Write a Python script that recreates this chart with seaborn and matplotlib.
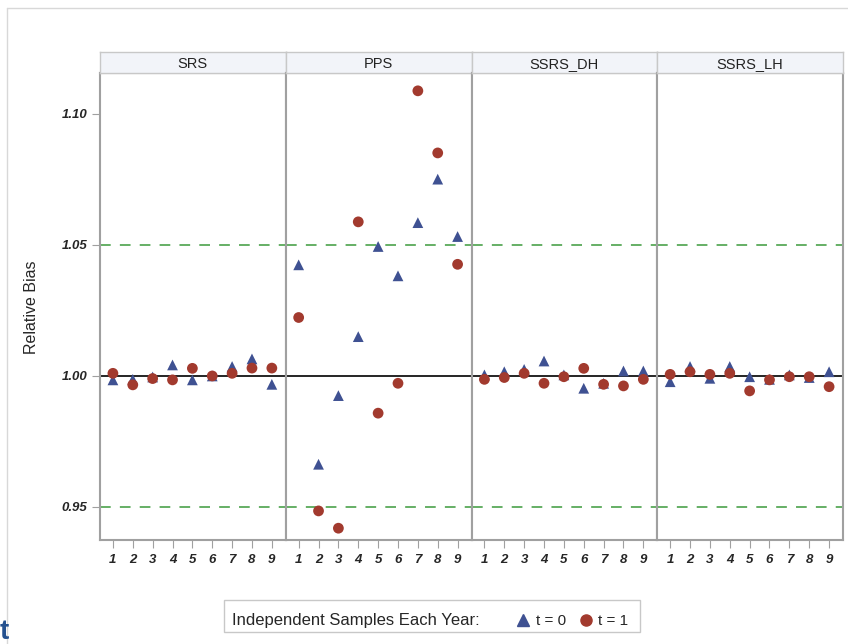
import pandas as pd
import matplotlib.pyplot as plt
import seaborn as sns
from matplotlib.lines import Line2D
from matplotlib.patches import Rectangle

# Data
designs = ["SRS", "PPS", "SSRS_DH", "SSRS_LH"]
samples = [1, 2, 3, 4, 5, 6, 7, 8, 9]

t0 = {
    "SRS":     [0.9985, 0.9987, 0.9996, 1.0042, 0.9985, 1.0000, 1.0036, 1.0065, 0.9968],
    "PPS":     [1.0424, 0.9663, 0.9925, 1.0150, 1.0494, 1.0382, 1.0585, 1.0751, 1.0532],
    "SSRS_DH": [1.0004, 1.0016, 1.0025, 1.0057, 1.0004, 0.9953, 0.9972, 1.0019, 1.0019],
    "SSRS_LH": [0.9978, 1.0036, 0.9991, 1.0036, 0.9997, 0.9987, 1.0004, 0.9994, 1.0016],
}
t1 = {
    "SRS":     [1.0010, 0.9966, 0.9990, 0.9985, 1.0029, 1.0000, 1.0010, 1.0030, 1.0030],
    "PPS":     [1.0223, 0.9485, 0.9419, 1.0588, 0.9858, 0.9972, 1.1088, 1.0851, 1.0426],
    "SSRS_DH": [0.9987, 0.9994, 1.0010, 0.9972, 0.9997, 1.0029, 0.9968, 0.9962, 0.9987],
    "SSRS_LH": [1.0006, 1.0016, 1.0006, 1.0010, 0.9943, 0.9985, 0.9997, 0.9997, 0.9959],
}

rows = []
for d in designs:
    for s, v in zip(samples, t0[d]):
        rows.append({"design": d, "sample": s, "t": "t = 0", "bias": v})
    for s, v in zip(samples, t1[d]):
        rows.append({"design": d, "sample": s, "t": "t = 1", "bias": v})
df = pd.DataFrame(rows)

BLUE = "#3F5192"
RED = "#A23A2E"
GREEN = "#3C9A3C"
GREY = "#A0A0A0"

sns.set_style("white")
plt.rcParams["font.family"] = ["Liberation Sans", "DejaVu Sans"]

fig = plt.figure(figsize=(8.48, 6.44), dpi=100)
W, H = 848, 644

left, right, top, bottom = 100, 843, 73, 540
pw = (right - left) / 4

for i, d in enumerate(designs):
    x0 = left + i * pw
    ax = fig.add_axes([x0 / W, 1 - bottom / H, pw / W, (bottom - top) / H])
    sub = df[df["design"] == d]
    ax.axhline(1.0, color="black", lw=1.2, zorder=1)
    for yv in (0.95, 1.05):
        ax.axhline(yv, color=GREEN, lw=1.1, dashes=(7, 6), zorder=1)
    sns.scatterplot(data=sub, x="sample", y="bias", hue="t", style="t",
                    palette={"t = 0": BLUE, "t = 1": RED},
                    markers={"t = 0": "^", "t = 1": "o"},
                    s=60, edgecolor="none", legend=False, ax=ax, zorder=3)
    ax.set_xlim(0.35, 9.7)
    ax.set_ylim(0.9374, 1.1156)
    ax.set_xticks(samples)
    ax.set_xticklabels([str(s) for s in samples], fontsize=9.5,
                       fontweight="bold", fontstyle="italic")
    ax.tick_params(axis="x", bottom=True, length=6, color=GREY, pad=4)
    if i == 0:
        ax.set_yticks([0.95, 1.00, 1.05, 1.10])
        ax.set_yticklabels(["0.95", "1.00", "1.05", "1.10"], fontsize=9.5,
                           fontweight="bold", fontstyle="italic")
        ax.tick_params(axis="y", left=True, length=6, color=GREY, pad=3)
    else:
        ax.set_yticks([])
    ax.set_xlabel("")
    ax.set_ylabel("")
    for sp in ax.spines.values():
        sp.set_color(GREY)
        sp.set_linewidth(1.5)

    # header strip
    hx = fig.add_axes([x0 / W, 1 - top / H, pw / W, 21 / H])
    hx.set_facecolor("#F2F4F9")
    hx.set_xticks([])
    hx.set_yticks([])
    for sp in hx.spines.values():
        sp.set_color("#C8C8C8")
        sp.set_linewidth(1.0)
    hx.text(0.5, 0.45, d, ha="center", va="center", fontsize=10.5,
            color="#222222", transform=hx.transAxes)

fig.text(32 / W, 1 - 307 / H, "Relative Bias", rotation=90, ha="center",
         va="center", fontsize=11.5)

# legend box
fig.patches.append(Rectangle((224 / W, 1 - 632 / H), 416 / W, 32 / H,
                             transform=fig.transFigure, fill=False,
                             edgecolor="#C8C8C8", lw=1.0))
fig.text(232 / W, 1 - 621 / H, "Independent Samples Each Year:",
         ha="left", va="center", fontsize=12)
handles = [
    Line2D([], [], marker="^", ls="none", color=BLUE, markersize=8),
    Line2D([], [], marker="o", ls="none", color=RED, markersize=8),
]
fig.legend(handles, ["t = 0", "t = 1"], ncol=2, frameon=False,
           loc="center left", bbox_to_anchor=(502 / W, 1 - 621 / H),
           fontsize=11, handlelength=1.0, handletextpad=0.3,
           columnspacing=0.8)

# outer frame of the page
fig.add_artist(Line2D([7 / W, 7 / W], [0, 1 - 8 / H], color="#D8D8D8",
                      lw=1.0, transform=fig.transFigure))
fig.add_artist(Line2D([7 / W, 1], [1 - 8 / H, 1 - 8 / H], color="#D8D8D8",
                      lw=1.0, transform=fig.transFigure))
fig.text(0, 1 - 632 / H, "t", color="#24508E", fontsize=20,
         fontweight="bold", ha="left", va="center")

fig.savefig("out.png", dpi=100)
